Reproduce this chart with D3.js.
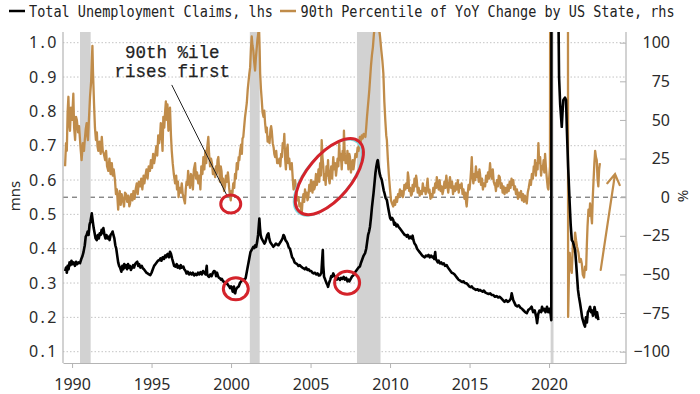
<!DOCTYPE html>
<html>
<head>
<meta charset="utf-8">
<script src="https://cdn.jsdelivr.net/npm/d3@7"></script>
<style>
  html, body { margin: 0; padding: 0; background: #fff; }
  svg { display: block; }
  .tick text { font-family: "Noto Sans", sans-serif; font-size: 16px; fill: #2b2b2b; }
</style>
</head>
<body>
<div id="chartDiv"></div>
<script>
// ---- data (decimal year, value) ----
const legendLabels = ["Total Unemployment Claims, lhs", "90th Percentile of YoY Change by US State, rhs"];
const xTicks = [1990, 1995, 2000, 2005, 2010, 2015, 2020];
const leftTicks = [0.1, 0.2, 0.3, 0.4, 0.5, 0.6, 0.7, 0.8, 0.9, 1.0];
const rightTicks = [-100, -75, -50, -25, 0, 25, 50, 75, 100];
const recessions = [[1990.5, 1991.17], [2001.18, 2001.8], [2007.92, 2009.4], [2020.1, 2020.28]];

// total claims, millions (lhs)
const claims = [
[1989.56,.335],[1989.62,.345],[1989.67,.33],[1989.72,.35],[1989.78,.34],[1989.84,.36],[1989.9,.352],[1989.96,.365],
[1990.02,.355],[1990.1,.36],[1990.18,.35],[1990.25,.362],[1990.32,.355],[1990.4,.36],[1990.5,.358],[1990.58,.37],
[1990.65,.378],[1990.72,.39],[1990.8,.41],[1990.86,.435],[1990.92,.44],[1990.98,.45],[1991.04,.44],[1991.1,.47],
[1991.16,.48],[1991.24,.503],[1991.3,.48],[1991.36,.46],[1991.42,.445],[1991.48,.43],[1991.55,.425],[1991.62,.44],
[1991.68,.43],[1991.74,.445],[1991.8,.44],[1991.86,.455],[1991.92,.445],[1991.97,.46],[1992.04,.44],[1992.1,.43],
[1992.16,.44],[1992.22,.43],[1992.3,.435],[1992.36,.425],[1992.42,.44],[1992.5,.445],[1992.55,.45],[1992.6,.44],
[1992.66,.43],[1992.72,.41],[1992.78,.40],[1992.84,.38],[1992.9,.36],[1992.96,.35],[1993.02,.345],[1993.1,.333],
[1993.16,.35],[1993.22,.34],[1993.28,.355],[1993.34,.345],[1993.4,.352],[1993.46,.34],[1993.52,.355],[1993.58,.345],
[1993.64,.35],[1993.7,.338],[1993.77,.345],[1993.84,.352],[1993.9,.345],[1993.96,.355],[1994.04,.36],[1994.1,.362],
[1994.16,.35],[1994.22,.355],[1994.3,.345],[1994.38,.35],[1994.45,.343],[1994.52,.34],[1994.6,.335],[1994.68,.33],
[1994.76,.328],[1994.84,.325],[1994.92,.323],[1995.0,.33],[1995.08,.34],[1995.16,.35],[1995.24,.355],[1995.32,.36],
[1995.4,.365],[1995.5,.367],[1995.56,.372],[1995.62,.365],[1995.7,.375],[1995.78,.37],[1995.85,.38],[1995.92,.375],
[1995.96,.382],[1996.02,.385],[1996.1,.375],[1996.16,.391],[1996.22,.385],[1996.3,.37],[1996.36,.36],[1996.42,.35],
[1996.5,.348],[1996.58,.355],[1996.64,.345],[1996.7,.35],[1996.78,.343],[1996.84,.352],[1996.9,.345],[1997.0,.348],
[1997.06,.34],[1997.14,.335],[1997.2,.328],[1997.28,.333],[1997.36,.325],[1997.44,.33],[1997.52,.325],[1997.6,.33],
[1997.68,.322],[1997.76,.327],[1997.84,.323],[1997.92,.33],[1998.0,.325],[1998.08,.332],[1998.16,.325],[1998.24,.335],
[1998.32,.33],[1998.4,.325],[1998.44,.34],[1998.47,.35],[1998.5,.325],[1998.56,.32],[1998.62,.318],[1998.7,.325],
[1998.78,.32],[1998.86,.33],[1998.92,.335],[1999.0,.333],[1999.06,.32],[1999.12,.33],[1999.18,.32],[1999.24,.315],
[1999.3,.314],[1999.36,.31],[1999.42,.312],[1999.5,.305],[1999.58,.303],[1999.66,.298],[1999.73,.3],[1999.8,.295],
[1999.88,.29],[1999.94,.285],[2000.0,.29],[2000.06,.285],[2000.1,.275],[2000.14,.285],[2000.18,.29],[2000.22,.272],
[2000.26,.27],[2000.3,.28],[2000.36,.285],[2000.42,.288],[2000.48,.29],[2000.56,.3],[2000.64,.305],[2000.72,.31],
[2000.8,.31],[2000.86,.31],[2000.92,.315],[2000.98,.33],[2001.04,.345],[2001.1,.36],[2001.16,.375],[2001.22,.39],
[2001.28,.395],[2001.34,.4],[2001.4,.405],[2001.46,.402],[2001.52,.41],[2001.58,.405],[2001.64,.42],[2001.7,.44],
[2001.75,.47],[2001.78,.488],[2001.82,.46],[2001.86,.44],[2001.92,.43],[2001.98,.425],[2002.04,.42],[2002.1,.415],
[2002.16,.42],[2002.22,.43],[2002.28,.44],[2002.35,.445],[2002.4,.43],[2002.46,.42],[2002.52,.415],[2002.6,.41],
[2002.66,.406],[2002.74,.41],[2002.82,.415],[2002.9,.412],[2002.98,.41],[2003.06,.416],[2003.12,.42],[2003.18,.425],
[2003.24,.43],[2003.3,.44],[2003.36,.435],[2003.42,.425],[2003.5,.42],[2003.56,.415],[2003.62,.405],[2003.7,.4],
[2003.76,.39],[2003.84,.375],[2003.92,.37],[2004.0,.36],[2004.08,.357],[2004.16,.355],[2004.24,.35],[2004.32,.352],
[2004.4,.348],[2004.48,.345],[2004.56,.343],[2004.64,.34],[2004.72,.345],[2004.8,.338],[2004.88,.34],[2004.96,.335],
[2005.04,.335],[2005.12,.33],[2005.2,.328],[2005.28,.33],[2005.36,.325],[2005.44,.328],[2005.52,.322],[2005.6,.323],
[2005.68,.33],[2005.72,.36],[2005.77,.396],[2005.8,.35],[2005.85,.318],[2005.92,.31],[2006.0,.3],[2006.06,.295],
[2006.1,.289],[2006.16,.3],[2006.24,.31],[2006.3,.32],[2006.36,.318],[2006.43,.328],[2006.5,.32],[2006.58,.318],
[2006.66,.31],[2006.74,.315],[2006.85,.309],[2006.92,.315],[2007.0,.312],[2007.08,.318],[2007.16,.31],[2007.24,.315],
[2007.28,.31],[2007.32,.305],[2007.38,.31],[2007.44,.305],[2007.5,.31],[2007.56,.315],[2007.62,.32],[2007.7,.323],
[2007.78,.33],[2007.86,.335],[2007.94,.34],[2008.02,.345],[2008.1,.348],[2008.18,.36],[2008.26,.37],[2008.34,.38],
[2008.43,.387],[2008.5,.4],[2008.56,.42],[2008.62,.44],[2008.68,.45],[2008.74,.464],[2008.8,.49],[2008.86,.52],
[2008.92,.545],[2008.96,.561],[2009.02,.59],[2009.08,.62],[2009.14,.64],[2009.2,.655],[2009.23,.658],[2009.28,.64],
[2009.34,.62],[2009.4,.61],[2009.48,.6],[2009.54,.585],[2009.6,.57],[2009.66,.56],[2009.72,.548],[2009.8,.542],
[2009.86,.525],[2009.94,.505],[2010.0,.49],[2010.06,.485],[2010.12,.49],[2010.2,.484],[2010.26,.47],[2010.32,.475],
[2010.4,.465],[2010.46,.47],[2010.53,.464],[2010.6,.46],[2010.68,.455],[2010.76,.45],[2010.84,.445],[2010.92,.44],
[2011.0,.44],[2011.05,.435],[2011.12,.44],[2011.2,.43],[2011.28,.435],[2011.36,.43],[2011.42,.438],[2011.47,.425],
[2011.54,.415],[2011.62,.41],[2011.7,.4],[2011.78,.395],[2011.86,.39],[2011.94,.385],[2012.02,.38],[2012.1,.377],
[2012.18,.375],[2012.26,.38],[2012.34,.378],[2012.42,.382],[2012.5,.375],[2012.58,.38],[2012.66,.375],[2012.72,.377],
[2012.78,.37],[2012.84,.39],[2012.88,.37],[2012.94,.365],[2013.0,.36],[2013.06,.365],[2013.14,.357],[2013.22,.36],
[2013.3,.355],[2013.38,.357],[2013.46,.35],[2013.56,.352],[2013.64,.345],[2013.72,.34],[2013.8,.335],[2013.88,.33],
[2013.98,.328],[2014.06,.325],[2014.14,.32],[2014.22,.315],[2014.3,.31],[2014.38,.308],[2014.46,.305],[2014.54,.303],
[2014.62,.305],[2014.7,.3],[2014.82,.299],[2014.9,.295],[2014.98,.29],[2015.06,.288],[2015.14,.29],[2015.22,.285],
[2015.3,.283],[2015.4,.28],[2015.5,.282],[2015.58,.278],[2015.66,.28],[2015.74,.277],[2015.82,.275],[2015.9,.278],
[2016.0,.272],[2016.1,.27],[2016.2,.268],[2016.3,.27],[2016.4,.265],[2016.5,.265],[2016.6,.26],[2016.7,.262],
[2016.8,.258],[2016.9,.26],[2017.0,.255],[2017.1,.25],[2017.2,.245],[2017.3,.25],[2017.4,.245],[2017.5,.248],
[2017.6,.255],[2017.65,.27],[2017.7,.26],[2017.75,.25],[2017.8,.245],[2017.9,.235],[2018.0,.232],[2018.1,.235],
[2018.2,.228],[2018.3,.225],[2018.4,.22],[2018.5,.215],[2018.6,.212],[2018.7,.222],[2018.8,.225],[2018.9,.231],
[2019.0,.215],[2019.1,.22],[2019.2,.2],[2019.25,.183],[2019.32,.21],[2019.4,.22],[2019.5,.215],[2019.56,.231],
[2019.62,.22],[2019.7,.225],[2019.78,.215],[2019.87,.231],[2019.95,.215],[2020.02,.225],[2020.1,.21],[2020.14,.192],
[2020.2,6.0],[2020.5,1.5],[2020.63,.9],[2020.7,.82],[2020.76,.78],[2020.8,.755],[2020.85,.8],[2020.9,.833],
[2021.0,.84],[2021.07,.833],[2021.12,.75],[2021.2,.639],[2021.3,.53],[2021.36,.47],[2021.43,.425],[2021.5,.42],
[2021.56,.41],[2021.64,.396],[2021.7,.36],[2021.76,.32],[2021.82,.28],[2021.88,.26],[2021.95,.241],[2022.02,.22],
[2022.08,.2],[2022.14,.19],[2022.2,.18],[2022.26,.173],[2022.32,.2],[2022.38,.185],[2022.44,.215],[2022.5,.22],
[2022.58,.231],[2022.64,.215],[2022.7,.22],[2022.76,.205],[2022.8,.212],[2022.86,.23],[2022.9,.221],[2022.96,.2],
[2023.02,.215],[2023.1,.192]
];

// 90th percentile of YoY change by state, % (rhs)
const pct90 = [
[1989.56,20],[1989.62,35],[1989.67,30],[1989.72,55],[1989.77,65],[1989.82,48],[1989.87,43],[1989.93,58],[1990.0,50],
[1990.08,67],[1990.13,45],[1990.19,37],[1990.25,52],[1990.3,50],[1990.38,42],[1990.44,46],[1990.5,37],[1990.55,30],
[1990.6,24],[1990.68,35],[1990.75,30],[1990.8,37],[1990.86,44],[1990.92,48],[1990.96,40],[1991.0,37],[1991.06,50],
[1991.13,65],[1991.2,75],[1991.24,88],[1991.28,98],[1991.32,80],[1991.38,61],[1991.44,45],[1991.5,37],[1991.56,42],
[1991.6,33],[1991.65,30],[1991.72,36],[1991.8,28],[1991.87,39],[1991.93,30],[1992.0,28],[1992.08,24],[1992.14,30],
[1992.2,20],[1992.28,17],[1992.35,25],[1992.42,15],[1992.5,22],[1992.56,14],[1992.62,18],[1992.7,11],[1992.76,2],
[1992.82,5],[1992.9,-8],[1992.95,0],[1993.0,4],[1993.06,-5],[1993.12,2],[1993.2,-2],[1993.27,-6],[1993.33,3],
[1993.4,2],[1993.47,-3],[1993.54,1],[1993.6,-6],[1993.65,-4],[1993.72,2],[1993.8,-2],[1993.86,4],[1993.93,-1],
[1994.0,5],[1994.07,9],[1994.13,2],[1994.2,10],[1994.28,7],[1994.35,12],[1994.42,5],[1994.5,14],[1994.55,9],
[1994.6,13],[1994.68,18],[1994.75,12],[1994.82,20],[1994.9,17],[1994.96,24],[1995.03,19],[1995.1,28],[1995.16,22],
[1995.22,26],[1995.3,33],[1995.36,27],[1995.42,40],[1995.48,35],[1995.53,39],[1995.58,48],[1995.64,42],[1995.69,30],
[1995.74,52],[1995.8,45],[1995.85,55],[1995.9,62],[1995.96,50],[1996.0,60],[1996.06,43],[1996.11,54],[1996.16,58],
[1996.22,40],[1996.27,30],[1996.33,22],[1996.4,15],[1996.48,9],[1996.55,14],[1996.6,5],[1996.66,10],[1996.7,0],
[1996.76,6],[1996.83,3],[1996.9,9],[1996.96,2],[1997.03,-1],[1997.1,-4],[1997.15,5],[1997.2,10],[1997.25,8],
[1997.3,17],[1997.36,10],[1997.42,6],[1997.48,15],[1997.53,13],[1997.6,5],[1997.66,18],[1997.74,22],[1997.8,12],
[1997.86,16],[1997.94,9],[1998.0,14],[1998.07,5],[1998.13,20],[1998.2,15],[1998.26,26],[1998.32,18],[1998.38,30],
[1998.44,22],[1998.5,32],[1998.57,39],[1998.62,28],[1998.68,20],[1998.74,25],[1998.8,22],[1998.86,15],[1998.92,18],
[1999.0,13],[1999.05,20],[1999.1,15],[1999.15,24],[1999.2,26],[1999.25,18],[1999.3,10],[1999.35,20],[1999.4,17],
[1999.45,8],[1999.5,12],[1999.56,4],[1999.62,7],[1999.68,14],[1999.74,10],[1999.8,16],[1999.83,13],[1999.88,6],
[1999.93,1],[1999.98,-2],[2000.03,4],[2000.08,2],[2000.14,9],[2000.2,6],[2000.25,15],[2000.3,12],[2000.36,22],
[2000.42,18],[2000.48,26],[2000.52,24],[2000.57,30],[2000.63,34],[2000.68,28],[2000.72,38],[2000.77,39],[2000.82,45],
[2000.88,52],[2000.93,56],[2000.99,61],[2001.05,70],[2001.1,75],[2001.15,80],[2001.2,84],[2001.25,96],[2001.3,104],
[2001.35,98],[2001.4,95],[2001.45,88],[2001.51,82],[2001.56,90],[2001.61,96],[2001.66,102],[2001.71,106],[2001.76,110],
[2001.8,95],[2001.83,80],[2001.88,70],[2001.93,63],[2001.98,55],[2002.04,52],[2002.09,56],[2002.14,48],[2002.2,42],
[2002.25,45],[2002.3,36],[2002.35,39],[2002.42,35],[2002.48,44],[2002.52,46],[2002.56,43],[2002.62,35],[2002.68,32],
[2002.72,28],[2002.77,26],[2002.84,30],[2002.9,22],[2002.98,22],[2003.04,25],[2003.1,20],[2003.15,28],[2003.2,26],
[2003.25,35],[2003.3,32],[2003.35,41],[2003.4,25],[2003.45,18],[2003.5,30],[2003.56,34],[2003.6,22],[2003.66,25],
[2003.72,18],[2003.78,20],[2003.82,22],[2003.88,12],[2003.93,5],[2003.98,8],[2004.03,11],[2004.1,3],[2004.17,-2],
[2004.24,0],[2004.3,-6],[2004.36,-4],[2004.42,-9],[2004.45,-10],[2004.5,-2],[2004.55,2],[2004.6,-3],[2004.65,5],
[2004.7,0],[2004.76,3],[2004.81,-2],[2004.86,0],[2004.92,8],[2004.97,4],[2005.03,11],[2005.07,6],[2005.12,3],
[2005.18,10],[2005.23,5],[2005.28,7],[2005.34,15],[2005.4,8],[2005.45,12],[2005.5,18],[2005.55,10],[2005.6,22],
[2005.65,14],[2005.7,37],[2005.75,26],[2005.8,20],[2005.85,11],[2005.9,15],[2005.95,8],[2006.0,20],[2006.05,14],
[2006.1,24],[2006.15,12],[2006.2,9],[2006.25,15],[2006.3,20],[2006.36,12],[2006.43,26],[2006.48,18],[2006.54,22],
[2006.6,14],[2006.64,18],[2006.7,25],[2006.75,20],[2006.8,35],[2006.85,24],[2006.9,28],[2006.96,18],[2007.02,30],
[2007.06,24],[2007.1,43],[2007.15,28],[2007.2,22],[2007.27,22],[2007.32,30],[2007.38,18],[2007.44,28],[2007.48,26],
[2007.54,16],[2007.6,20],[2007.65,24],[2007.7,18],[2007.75,22],[2007.82,28],[2007.9,26],[2007.96,32],[2008.02,30],
[2008.1,39],[2008.16,36],[2008.22,40],[2008.28,38],[2008.34,41],[2008.4,40],[2008.45,39],[2008.5,45],[2008.55,52],
[2008.6,58],[2008.66,65],[2008.7,70],[2008.74,76],[2008.8,85],[2008.86,92],[2008.92,97],[2008.98,105],[2009.05,112],
[2009.15,115],[2009.25,112],[2009.32,108],[2009.37,104],[2009.45,95],[2009.52,88],[2009.58,80],[2009.64,62],[2009.7,50],
[2009.76,40],[2009.8,37],[2009.86,25],[2009.92,15],[2010.0,5],[2010.06,-2],[2010.12,-4],[2010.2,-6],[2010.26,-2],
[2010.32,-5],[2010.38,0],[2010.44,-3],[2010.5,2],[2010.56,0],[2010.62,5],[2010.68,1],[2010.74,4],[2010.8,0],
[2010.85,2],[2010.9,8],[2010.96,5],[2011.02,9],[2011.08,6],[2011.12,16],[2011.16,13],[2011.2,4],[2011.26,6],
[2011.32,1],[2011.37,2],[2011.42,8],[2011.48,4],[2011.54,12],[2011.6,7],[2011.64,14],[2011.68,11],[2011.74,3],
[2011.8,6],[2011.86,1],[2011.92,4],[2012.0,2],[2012.06,9],[2012.12,4],[2012.18,6],[2012.24,2],[2012.31,7],
[2012.36,12],[2012.42,3],[2012.48,5],[2012.54,-1],[2012.6,2],[2012.66,0],[2012.72,6],[2012.78,3],[2012.84,9],
[2012.9,6],[2012.94,13],[2013.0,8],[2013.06,5],[2013.12,11],[2013.18,4],[2013.24,7],[2013.3,2],[2013.36,5],
[2013.42,10],[2013.48,6],[2013.54,14],[2013.6,8],[2013.66,3],[2013.72,9],[2013.77,13],[2013.84,6],[2013.9,10],
[2013.96,2],[2014.02,7],[2014.08,4],[2014.14,9],[2014.2,5],[2014.26,11],[2014.32,3],[2014.38,8],[2014.44,6],
[2014.5,9],[2014.56,2],[2014.62,5],[2014.68,-1],[2014.74,3],[2014.79,-4],[2014.82,-6],[2014.88,2],[2014.94,8],
[2015.0,5],[2015.06,12],[2015.1,18],[2015.14,26],[2015.18,14],[2015.24,9],[2015.3,15],[2015.35,11],[2015.4,20],
[2015.46,13],[2015.52,16],[2015.58,10],[2015.62,18],[2015.66,15],[2015.72,8],[2015.78,12],[2015.84,5],[2015.9,9],
[2015.98,7],[2016.04,14],[2016.1,10],[2016.16,16],[2016.22,12],[2016.29,22],[2016.34,15],[2016.4,12],[2016.46,18],
[2016.52,10],[2016.58,8],[2016.6,9],[2016.66,4],[2016.72,11],[2016.78,7],[2016.84,14],[2016.9,13],[2016.96,6],
[2017.02,9],[2017.08,3],[2017.14,7],[2017.2,2],[2017.26,6],[2017.34,3],[2017.4,8],[2017.46,4],[2017.52,10],
[2017.58,6],[2017.64,12],[2017.7,8],[2017.75,11],[2017.8,5],[2017.86,7],[2017.92,2],[2017.98,5],[2018.04,-1],
[2018.1,3],[2018.18,0],[2018.24,4],[2018.3,-2],[2018.36,2],[2018.42,-3],[2018.48,1],[2018.54,-2],[2018.6,-4],
[2018.66,3],[2018.72,6],[2018.8,11],[2018.86,8],[2018.92,15],[2018.98,12],[2019.04,20],[2019.08,17],[2019.12,24],
[2019.17,14],[2019.22,22],[2019.28,18],[2019.33,35],[2019.38,22],[2019.44,26],[2019.5,14],[2019.55,20],[2019.6,18],
[2019.66,24],[2019.7,16],[2019.75,28],[2019.8,20],[2019.86,12],[2019.92,6],[2019.96,5],[2020.02,14],[2020.06,20],
[2020.14,1000],[2021.15,900],[2021.2,-77.5],[2021.25,-50],[2021.3,-36],[2021.36,-45],[2021.43,-49],[2021.5,-30],
[2021.56,-35],[2021.64,-23],[2021.7,-28],[2021.76,-32],[2021.85,-36],[2021.92,-42],[2022.0,-40],[2022.06,-43],
[2022.12,-50],[2022.2,-52],[2022.26,-45],[2022.33,-47],[2022.38,-30],[2022.42,-19],[2022.48,-8],[2022.54,-12],
[2022.58,-4],[2022.64,-10],[2022.7,-17],[2022.75,0],[2022.8,11],[2022.85,22],[2022.9,30],[2022.95,26],[2023.0,24],
[2023.05,12],[2023.1,7],[2023.15,18],[2023.2,22]
];

// annotation anchors in data units: [year, lhs value]
const noteCircles = [[1999.98, 0.530, 10, 9], [2000.3, 0.283, 12.5, 11], [2007.3, 0.301, 12.5, 11.5]];
const noteEllipse = [2006.18, 0.61, 46, 22, -50];
const noteLeader = [[1996.27, 0.877], [1999.73, 0.556]];
const noteText = [1996.3, ["90th %ile", "rises first"]];
const trendArrow = [[2023.25, -47], [2024.15, 15]]; // rhs units

// ---- layout ----
const W = 700, H = 394;
const plot = { l: 63, r: 626, t: 32, b: 363 };
const tan = "#c08c4a";

const svgObj = d3.select("#chartDiv").append("svg").attr("width", W).attr("height", H);
svgObj.append("rect").attr("width", W).attr("height", H).attr("fill", "#fff");

const x = d3.scaleLinear().domain([1989.43, 2024.84]).range([plot.l, plot.r]);
const yL = d3.scaleLinear().domain([0.1, 1.0]).range([351.7, 42.7]);
const yR = d3.scaleLinear().domain([-100, 100]).range([351.7, 42.7]);

svgObj.append("clipPath").attr("id", "clip")
  .append("rect").attr("x", plot.l).attr("y", plot.t).attr("width", plot.r - plot.l).attr("height", plot.b - plot.t);

// gridlines
svgObj.append("g").selectAll("line").data(leftTicks).enter().append("line")
  .attr("x1", plot.l).attr("x2", plot.r)
  .attr("y1", d => yL(d)).attr("y2", d => yL(d))
  .attr("stroke", "#c4c4c4").attr("stroke-width", 1).attr("stroke-dasharray", "1.5,2");

// zero line for rhs
svgObj.append("line")
  .attr("x1", plot.l).attr("x2", plot.r).attr("y1", yR(0)).attr("y2", yR(0))
  .attr("stroke", "#555").attr("stroke-width", 1).attr("stroke-dasharray", "5,4");

// recession shading
svgObj.append("g").selectAll("rect").data(recessions).enter().append("rect")
  .attr("x", d => x(d[0])).attr("width", d => x(d[1]) - x(d[0]))
  .attr("y", plot.t).attr("height", plot.b - plot.t)
  .attr("fill", "#d2d2d2");

// series
const lines = svgObj.append("g").attr("clip-path", "url(#clip)");
lines.append("path").datum(pct90)
  .attr("d", d3.line().x(d => x(d[0])).y(d => yR(d[1])))
  .attr("fill", "none").attr("stroke", tan).attr("stroke-width", 2.3).attr("stroke-linejoin", "round");
lines.append("path").datum(claims)
  .attr("d", d3.line().x(d => x(d[0])).y(d => yL(d[1])))
  .attr("fill", "none").attr("stroke", "#000").attr("stroke-width", 2.6).attr("stroke-linejoin", "round");

// frame
const frame = svgObj.append("g").attr("stroke", "#b4b4b4").attr("stroke-width", 1.2);
frame.append("line").attr("x1", plot.l).attr("x2", plot.l).attr("y1", plot.t).attr("y2", plot.b);
frame.append("line").attr("x1", plot.r).attr("x2", plot.r).attr("y1", plot.t).attr("y2", plot.b);

// axes
const xAxis = svgObj.append("g").attr("transform", `translate(0,${plot.b})`)
  .call(d3.axisBottom(x).tickValues(xTicks).tickFormat(d3.format("d")).tickSizeInner(5).tickSizeOuter(0).tickPadding(7));
xAxis.select(".domain").attr("stroke", "#b4b4b4").attr("stroke-width", 1.2);
xAxis.selectAll(".tick line").attr("stroke", "#b4b4b4");
xAxis.selectAll(".tick text").attr("dy", "0.95em");

const leftAxis = svgObj.append("g").attr("transform", `translate(${plot.l},0)`)
  .call(d3.axisLeft(yL).tickValues(leftTicks).tickFormat(d3.format(".1f")).tickSize(0).tickPadding(4));
leftAxis.select(".domain").remove();
leftAxis.selectAll(".tick text").attr("letter-spacing", "2.5px");

const rightAxis = svgObj.append("g").attr("transform", `translate(${plot.r},0)`)
  .call(d3.axisRight(yR).tickValues(rightTicks).tickSizeInner(-6).tickSizeOuter(0));
rightAxis.select(".domain").remove();
rightAxis.selectAll(".tick line").attr("stroke", "#b4b4b4");
rightAxis.selectAll(".tick text").attr("x", 44).attr("text-anchor", "end");

// axis titles
svgObj.append("text").attr("transform", "translate(20,196) rotate(-90)")
  .attr("text-anchor", "middle").attr("font-family", "Noto Sans, sans-serif").attr("font-size", 15).attr("fill", "#2b2b2b")
  .text("mns");
svgObj.append("text").attr("transform", "translate(678,196) rotate(90)")
  .attr("text-anchor", "middle").attr("font-family", "Noto Sans, sans-serif").attr("font-size", 15).attr("fill", "#2b2b2b")
  .text("%");

// legend (condensed monospace)
const legend = svgObj.append("g").attr("font-family", "DejaVu Sans Mono, monospace").attr("font-size", 16).attr("fill", "#222");
legend.append("line").attr("x1", 9).attr("x2", 25).attr("y1", 11).attr("y2", 11).attr("stroke", "#000").attr("stroke-width", 2.5);
legend.append("text").attr("transform", "translate(29,17) scale(0.845,1)").text(legendLabels[0]);
legend.append("line").attr("x1", 280).attr("x2", 296).attr("y1", 11).attr("y2", 11).attr("stroke", tan).attr("stroke-width", 2.5);
legend.append("text").attr("transform", "translate(300.5,17) scale(0.845,1)").text(legendLabels[1]);

// annotations
const notes = svgObj.append("g");
notes.append("line")
  .attr("x1", x(noteLeader[0][0])).attr("y1", yL(noteLeader[0][1]))
  .attr("x2", x(noteLeader[1][0])).attr("y2", yL(noteLeader[1][1]))
  .attr("stroke", "#222").attr("stroke-width", 1);
notes.selectAll("text.note").data(noteText[1]).enter().append("text")
  .attr("x", x(noteText[0])).attr("y", (d, i) => 57.5 + i * 19)
  .attr("text-anchor", "middle").attr("font-family", "Liberation Mono, monospace").attr("font-size", 17.5)
  .attr("fill", "#222").attr("stroke", "#222").attr("stroke-width", 0.25)
  .text(d => d);

const ex = x(noteEllipse[0]), ey = yL(noteEllipse[1]);
notes.append("ellipse").attr("transform", `translate(${ex - 1.5},${ey + 1}) rotate(${noteEllipse[4]})`)
  .attr("rx", noteEllipse[2]).attr("ry", noteEllipse[3])
  .attr("fill", "none").attr("stroke", "#7fdde4").attr("stroke-width", 2);
notes.append("ellipse").attr("transform", `translate(${ex},${ey}) rotate(${noteEllipse[4]})`)
  .attr("rx", noteEllipse[2]).attr("ry", noteEllipse[3])
  .attr("fill", "none").attr("stroke", "#d4232b").attr("stroke-width", 3);
notes.selectAll("ellipse.c").data(noteCircles).enter().append("ellipse")
  .attr("cx", d => x(d[0])).attr("cy", d => yL(d[1])).attr("rx", d => d[2]).attr("ry", d => d[3])
  .attr("fill", "none").attr("stroke", "#d4232b").attr("stroke-width", 3);

// trend arrow (rhs)
const a0 = [x(trendArrow[0][0]), yR(trendArrow[0][1])], a1 = [x(trendArrow[1][0]), yR(trendArrow[1][1])];
const ang = Math.atan2(a1[1] - a0[1], a1[0] - a0[0]);
const head = [-0.55, 0.55].map(o => [a1[0] - 12 * Math.cos(ang + o), a1[1] - 12 * Math.sin(ang + o)]);
notes.append("path")
  .attr("d", `M${a0[0]},${a0[1]}L${a1[0]},${a1[1]}M${head[0][0]},${head[0][1]}L${a1[0]},${a1[1]}L${head[1][0]},${head[1][1]}`)
  .attr("fill", "none").attr("stroke", tan).attr("stroke-width", 2.2).attr("stroke-linecap", "round");
</script>
</body>
</html>
